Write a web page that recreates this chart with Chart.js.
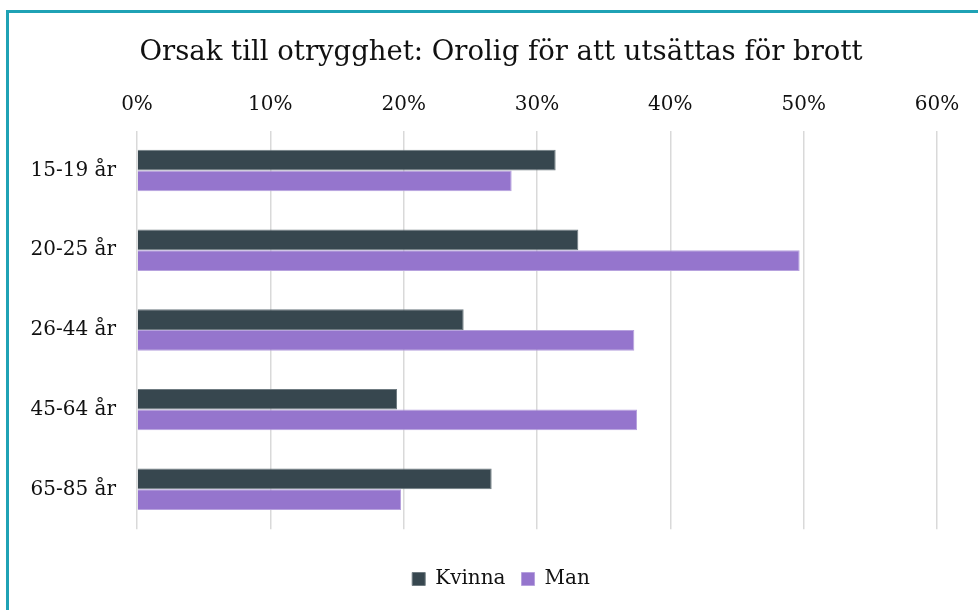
<!DOCTYPE html>
<html lang="sv">
<head>
<meta charset="utf-8">
<title>Orsak till otrygghet</title>
<script src="https://cdn.jsdelivr.net/npm/chart.js@4.4.1/dist/chart.umd.min.js"></script>
<style>
    html, body { margin: 0; padding: 0; background: #fff; width: 978px; height: 610px; overflow: hidden; }
    /* ramen går utanför bilden till höger och nedåt, som i originalet */
    #box { position: absolute; left: 6px; top: 10px; width: 988px; height: 600px; border: 3px solid #1fa2b5; }
</style>
</head>
<body>
<div id="box"><canvas id="otryggChart"></canvas></div>
<script>
// data (andel i procent)
const ageGroups = ["15-19 år", "20-25 år", "26-44 år", "45-64 år", "65-85 år"];
const kvinna = [31.4, 33.1, 24.5, 19.5, 26.6];
const man = [28.1, 49.7, 37.3, 37.5, 19.8];
const xTicks = [0, 10, 20, 30, 40, 50, 60];

const FONT = "'DejaVu Serif', 'Liberation Serif', serif";

const ctx = document.getElementById('otryggChart').getContext('2d');
const myChart = new Chart(ctx, {
    type: 'bar',
    data: {
        labels: ageGroups,
        datasets: [
            { label: 'Kvinna', data: kvinna, backgroundColor: '#37474f', borderColor: '#6f7b81', borderWidth: 1 },
            { label: 'Man', data: man, backgroundColor: '#9575cd', borderColor: '#b7a2de', borderWidth: 1 }
        ]
    },
    options: {
        indexAxis: 'y',
        responsive: true,
        maintainAspectRatio: false,
        animation: false,
        datasets: { bar: { categoryPercentage: 0.52, barPercentage: 1 } },
        layout: { padding: { left: 16, right: 20, top: 0, bottom: 14 } },
        scales: {
            x: {
                position: 'top',
                min: xTicks[0],
                max: xTicks[xTicks.length - 1],
                afterBuildTicks: (scale) => { scale.ticks = xTicks.map(v => ({ value: v })); },
                afterFit: (scale) => { scale.height = 54.6; },
                grid: { color: '#d9d9d9', lineWidth: 1.5, drawTicks: false },
                border: { display: false },
                ticks: {
                    padding: 14,
                    color: '#111',
                    font: { family: FONT, size: 20 },
                    callback: (v) => v + '%'
                }
            },
            y: {
                afterFit: (scale) => { scale.width = 112; },
                grid: { display: false, drawTicks: false },
                border: { display: false },
                ticks: { padding: 21, color: '#111', font: { family: FONT, size: 20 } }
            },
            // tom axel till höger, håller marginalen till höger om ytan
            yRight: {
                type: 'category',
                position: 'right',
                afterFit: (scale) => { scale.width = 40; },
                grid: { display: false, drawTicks: false },
                border: { display: false },
                ticks: { display: false }
            }
        },
        plugins: {
            title: {
                display: true,
                text: 'Orsak till otrygghet: Orolig för att utsättas för brott',
                color: '#111',
                font: { family: FONT, size: 27.5, weight: 'normal' },
                padding: { top: 23, bottom: 7 }
            },
            legend: {
                position: 'bottom',
                title: { display: true, text: ' ', font: { size: 4 }, padding: { top: 0, bottom: 19 } },
                labels: {
                    boxWidth: 13,
                    boxHeight: 13,
                    padding: 16,
                    color: '#111',
                    font: { family: FONT, size: 20 }
                }
            },
            tooltip: { enabled: false }
        }
    }
});
</script>
</body>
</html>
